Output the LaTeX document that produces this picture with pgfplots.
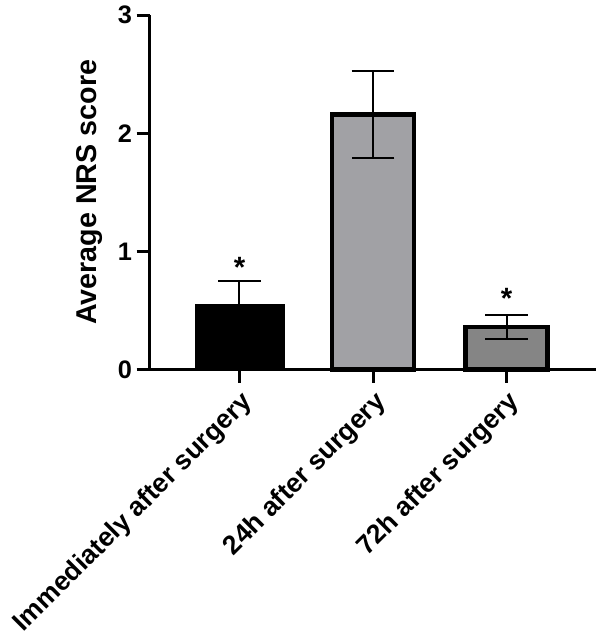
\documentclass[border=0pt]{standalone}
\usepackage{fontspec}
\setmainfont{Liberation Sans}
\usepackage{pgfplots}
\pgfplotsset{compat=1.18}
\definecolor{barB}{RGB}{161,161,165}
\definecolor{barC}{RGB}{133,133,133}
\begin{document}
\begin{tikzpicture}
\useasboundingbox (0,0) rectangle (450pt,482.25pt);
\begin{axis}[
  at={(112.5pt,205.1pt)}, anchor=south west,
  scale only axis, width=334.5pt, height=265.9pt,
  xmin=-0.67, xmax=2.67, ymin=0, ymax=3,
  axis x line=bottom, axis y line=left,
  axis line style={line width=2.25pt, -},
  xtick={0,1,2},
  xticklabels={Immediately after surgery, 24h after surgery, 72h after surgery},
  ytick={0,1,2,3},
  tick style={line width=2.25pt, black},
  major tick length=10pt,
  tick align=outside,
  x tick label style={rotate=45, anchor=north east, font=\bfseries\fontsize{20}{24}\selectfont},
  y tick label style={font=\bfseries\fontsize{19}{23}\selectfont},
  /pgf/number format/assume math mode=true,
  ylabel={Average NRS score},
  ylabel style={font=\bfseries\fontsize{21.5}{25}\selectfont, yshift=4.5pt},
  ybar, bar shift=0pt,
  error bars/error bar style={line width=1.5pt, black},
  error bars/error mark options={rotate=90, mark size=16pt, line width=1.5pt, black},
  clip=false,
]
\addplot[fill=black, draw=black, bar width=0.667, error bars/.cd, y dir=plus, y explicit] coordinates {(0,0.555) +- (0,0.19)};
\addplot[fill=barB, draw=black, line width=3.5pt, bar width=0.615, error bars/.cd, y dir=both, y explicit] coordinates {(1,2.16) +- (0,0.37)};
\addplot[fill=barC, draw=black, line width=3.5pt, bar width=0.615, error bars/.cd, y dir=both, y explicit] coordinates {(2,0.36) +- (0,0.10)};
\node[font=\bfseries\fontsize{22}{26}\selectfont, anchor=base] at (axis cs:0,0.78) {*};
\node[font=\bfseries\fontsize{22}{26}\selectfont, anchor=base] at (axis cs:2,0.52) {*};
\end{axis}
\end{tikzpicture}
\end{document}
